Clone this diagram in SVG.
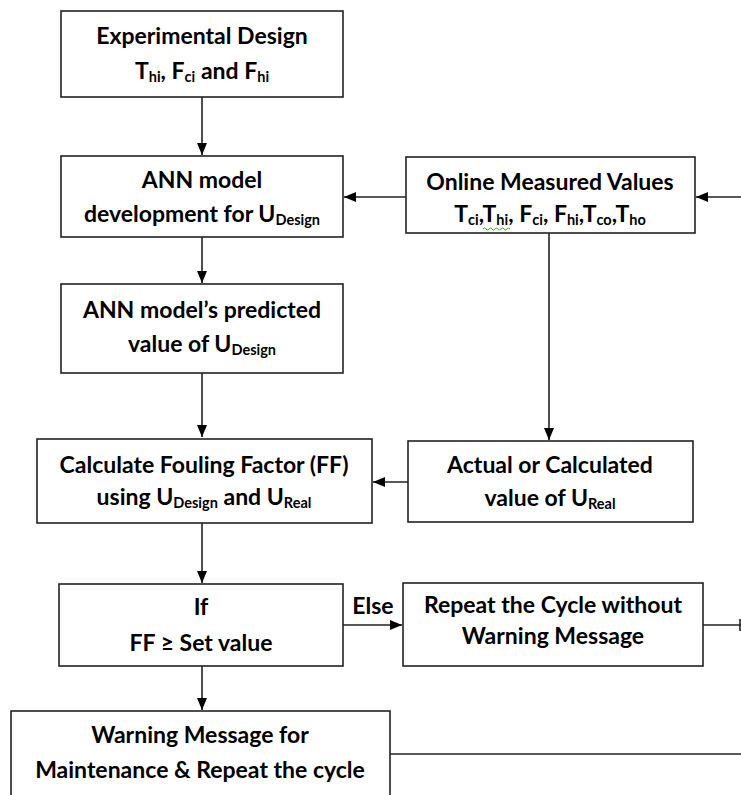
<svg xmlns="http://www.w3.org/2000/svg" width="741" height="795" viewBox="0 0 741 795">
<style>
.box{fill:#fff;stroke:#222;stroke-width:1.6}
.t{font-family:Lato,"Liberation Sans",sans-serif;font-weight:bold;font-size:23px;fill:#000;text-anchor:middle}
.s{font-size:14.5px}
.c{stroke:#222;stroke-width:1.6;fill:none}
</style>
<defs>
<marker id="ah" viewBox="0 0 12 10" refX="12" refY="5" markerWidth="12" markerHeight="11" markerUnits="userSpaceOnUse" orient="auto">
<path d="M0,0 L12,5 L0,10 Z" fill="#000"/>
</marker>
</defs>
<rect width="741" height="795" fill="#fff"/>
<g id="connectors">
<path class="c" d="M202,97 V155" marker-end="url(#ah)"/>
<path class="c" d="M406,197 H344" marker-end="url(#ah)"/>
<path class="c" d="M741,197 H696" marker-end="url(#ah)"/>
<path class="c" d="M202,237 V283" marker-end="url(#ah)"/>
<path class="c" d="M202,373 V437" marker-end="url(#ah)"/>
<path class="c" d="M549,233 V440" marker-end="url(#ah)"/>
<path class="c" d="M408,482 H373" marker-end="url(#ah)"/>
<path class="c" d="M202,523 V583" marker-end="url(#ah)"/>
<path class="c" d="M343,625 H402" marker-end="url(#ah)"/>
<path class="c" d="M703,625 H741"/>
<path class="c" d="M740,619 V631"/>
<path class="c" d="M202,666 V710" marker-end="url(#ah)"/>
<path class="c" d="M390,754 H741"/>
<text class="t" x="373" y="614">Else</text>
</g>
<g id="n1">
<rect class="box" x="61" y="11" width="282" height="86"/>
<text class="t" x="202" y="44">Experimental Design</text>
<text class="t" x="202" y="79">T<tspan class="s" dy="3">hi</tspan><tspan dy="-3">, F</tspan><tspan class="s" dy="3">ci</tspan><tspan dy="-3"> and F</tspan><tspan class="s" dy="3">hi</tspan></text>
</g>
<g id="n2">
<rect class="box" x="61" y="156" width="282" height="81"/>
<text class="t" x="202" y="188">ANN model</text>
<text class="t" x="202" y="222">development for U<tspan class="s" dy="3">Design</tspan></text>
</g>
<g id="n3">
<rect class="box" x="406" y="157" width="289" height="76"/>
<text class="t" x="550" y="190">Online Measured Values</text>
<text class="t" x="550" y="222">T<tspan class="s" dy="3">ci</tspan><tspan dy="-3">,T</tspan><tspan class="s" dy="3">hi</tspan><tspan dy="-3">, F</tspan><tspan class="s" dy="3">ci</tspan><tspan dy="-3">, F</tspan><tspan class="s" dy="3">hi</tspan><tspan dy="-3">,T</tspan><tspan class="s" dy="3">co</tspan><tspan dy="-3">,T</tspan><tspan class="s" dy="3">ho</tspan></text>
<path d="M483,229 q1.5,-2 3,0 t3,0 t3,0 t3,0 t3,0 t3,0 t3,0 t3,0 t3,0" fill="none" stroke="#3a3" stroke-width="1"/>
</g>
<g id="n4">
<rect class="box" x="61" y="284" width="282" height="89"/>
<text class="t" x="202" y="318">ANN model’s predicted</text>
<text class="t" x="202" y="352">value of U<tspan class="s" dy="3">Design</tspan></text>
</g>
<g id="n5">
<rect class="box" x="37" y="439" width="335" height="84"/>
<text class="t" x="204" y="473">Calculate Fouling Factor (FF)</text>
<text class="t" x="204" y="505">using U<tspan class="s" dy="3">Design</tspan><tspan dy="-3"> and U</tspan><tspan class="s" dy="3">Real</tspan></text>
</g>
<g id="n6">
<rect class="box" x="408" y="441" width="285" height="81"/>
<text class="t" x="550" y="473">Actual or Calculated</text>
<text class="t" x="550" y="506">value of U<tspan class="s" dy="3">Real</tspan></text>
</g>
<g id="n7">
<rect class="box" x="59" y="584" width="284" height="82"/>
<text class="t" x="201" y="615">If</text>
<text class="t" x="201" y="651">FF ≥ Set value</text>
</g>
<g id="n8">
<rect class="box" x="403" y="583" width="300" height="83"/>
<text class="t" x="553" y="613">Repeat the Cycle without</text>
<text class="t" x="553" y="644">Warning Message</text>
</g>
<g id="n9">
<rect class="box" x="11" y="711" width="379" height="100"/>
<text class="t" x="200" y="743">Warning Message for</text>
<text class="t" x="200" y="778">Maintenance &amp; Repeat the cycle</text>
</g>
</svg>
